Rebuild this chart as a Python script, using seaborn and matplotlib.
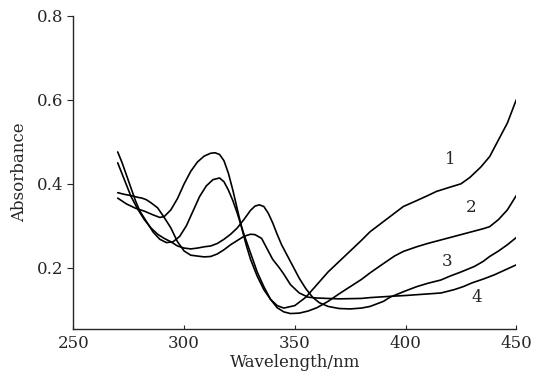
import numpy as np
import pandas as pd
import matplotlib
matplotlib.use('Agg')
import matplotlib.pyplot as plt
import seaborn as sns

# -------------------------------
# DATA
# -------------------------------

wl_1 = [270, 274, 278, 282, 286, 289, 291, 294, 297, 300, 303, 306, 309, 312, 314, 316,
        318, 320, 322, 324, 326, 328, 330, 333, 336, 339, 342, 345, 350, 355, 360, 365,
        370, 375, 380, 384, 390, 395, 399, 405, 410, 414, 420, 425, 429, 434, 438, 442,
        446, 450]
abs_1 = [0.366, 0.352, 0.342, 0.335, 0.326, 0.320, 0.322, 0.338, 0.365, 0.400, 0.430,
         0.452, 0.466, 0.473, 0.474, 0.470, 0.455, 0.425, 0.385, 0.340, 0.295, 0.255,
         0.220, 0.180, 0.148, 0.125, 0.110, 0.104, 0.110, 0.130, 0.160, 0.190, 0.215,
         0.240, 0.265, 0.286, 0.310, 0.330, 0.346, 0.360, 0.372, 0.382, 0.392, 0.400,
         0.415, 0.440, 0.465, 0.505, 0.545, 0.600]

wl_2 = [270, 272, 274, 276, 278, 280, 283, 286, 289, 292, 295, 298, 301, 304, 307, 310,
        313, 316, 318, 320, 322, 324, 327, 330, 333, 336, 339, 342, 345, 348, 352, 356,
        360, 365, 370, 375, 380, 384, 390, 395, 399, 405, 410, 415, 420, 425, 430, 435,
        438, 442, 446, 450]
abs_2 = [0.476, 0.450, 0.420, 0.390, 0.360, 0.335, 0.310, 0.285, 0.268, 0.260, 0.262,
         0.275, 0.300, 0.335, 0.370, 0.395, 0.410, 0.414, 0.405, 0.385, 0.360, 0.330,
         0.280, 0.235, 0.190, 0.155, 0.125, 0.105, 0.095, 0.091, 0.092, 0.097, 0.105,
         0.120, 0.138, 0.155, 0.172, 0.188, 0.210, 0.228, 0.239, 0.250, 0.258, 0.265,
         0.272, 0.279, 0.286, 0.293, 0.298, 0.315, 0.338, 0.372]

wl_3 = [270, 273, 276, 279, 282, 285, 288, 291, 294, 297, 300, 303, 306, 309, 312, 315,
        318, 321, 324, 327, 330, 332, 334, 336, 338, 340, 342, 344, 346, 348, 350, 352,
        355, 358, 361, 365, 370, 375, 380, 384, 390, 393, 400, 405, 410, 416, 420, 425,
        431, 435, 438, 442, 446, 450]
abs_3 = [0.450, 0.410, 0.370, 0.340, 0.315, 0.295, 0.280, 0.270, 0.262, 0.252, 0.247,
         0.245, 0.247, 0.250, 0.252, 0.258, 0.268, 0.280, 0.295, 0.315, 0.337, 0.347,
         0.350, 0.346, 0.330, 0.307, 0.280, 0.255, 0.235, 0.215, 0.195, 0.175, 0.150,
         0.130, 0.117, 0.108, 0.103, 0.102, 0.104, 0.108, 0.120, 0.130, 0.145, 0.155,
         0.163, 0.171, 0.180, 0.190, 0.203, 0.215, 0.227, 0.240, 0.255, 0.272]

wl_4 = [270, 273, 276, 279, 281, 283, 285, 288, 291, 294, 297, 300, 303, 306, 309, 312,
        315, 318, 321, 324, 327, 330, 332, 335, 337, 340, 343, 345, 348, 352, 356, 360,
        370, 380, 384, 393, 400, 408, 416, 422, 426, 430, 435, 440, 445, 450]
abs_4 = [0.379, 0.375, 0.372, 0.368, 0.366, 0.362, 0.355, 0.343, 0.320, 0.295, 0.262,
         0.240, 0.230, 0.228, 0.226, 0.227, 0.233, 0.243, 0.255, 0.265, 0.275, 0.280,
         0.279, 0.270, 0.250, 0.220, 0.200, 0.185, 0.160, 0.140, 0.130, 0.128, 0.126,
         0.127, 0.129, 0.132, 0.134, 0.137, 0.140, 0.148, 0.155, 0.164, 0.173, 0.183,
         0.195, 0.207]

curve_names = ['1', '2', '3', '4']
label_x = [420.2, 429.7, 418.8, 432.0]
label_y = [0.457, 0.343, 0.214, 0.129]

# long-form table for seaborn
frames = []
for name, wl, ab in zip(curve_names, [wl_1, wl_2, wl_3, wl_4], [abs_1, abs_2, abs_3, abs_4]):
    frames.append(pd.DataFrame({'wavelength': wl, 'absorbance': ab, 'curve': name}))
df = pd.concat(frames, ignore_index=True)

# -------------------------------
# PLOT
# -------------------------------

sns.set_style('ticks')
plt.rcParams['font.family'] = ['DejaVu Serif']

fig = plt.figure(figsize=(5.4, 3.8), dpi=100)
ax = fig.add_axes([0.136, 0.134, 0.820, 0.824])

sns.lineplot(
    data=df,
    x='wavelength',
    y='absorbance',
    units='curve',
    estimator=None,
    sort=False,
    color='black',
    linewidth=1.2,
    ax=ax
)

for name, lx, ly in zip(curve_names, label_x, label_y):
    ax.text(lx, ly, name, fontsize=12, ha='center', va='center')

ax.set_xlim(250, 450)
ax.set_ylim(0.054, 0.8)
ax.set_xticks([250, 300, 350, 400, 450])
ax.set_yticks([0.2, 0.4, 0.6, 0.8])
ax.set_yticklabels(['0.2', '0.4', '0.6', '0.8'])

ax.tick_params(axis='x', direction='in', length=3, labelsize=12, pad=4)
ax.tick_params(axis='y', direction='out', length=4, labelsize=12)

ax.set_xlabel('Wavelength/nm', fontsize=12, labelpad=2)
ax.set_ylabel('Absorbance', fontsize=12, labelpad=6)

sns.despine(ax=ax)
for s in ['left', 'bottom']:
    ax.spines[s].set_linewidth(1.0)

fig.savefig('out.png', dpi=100)
plt.close(fig)
